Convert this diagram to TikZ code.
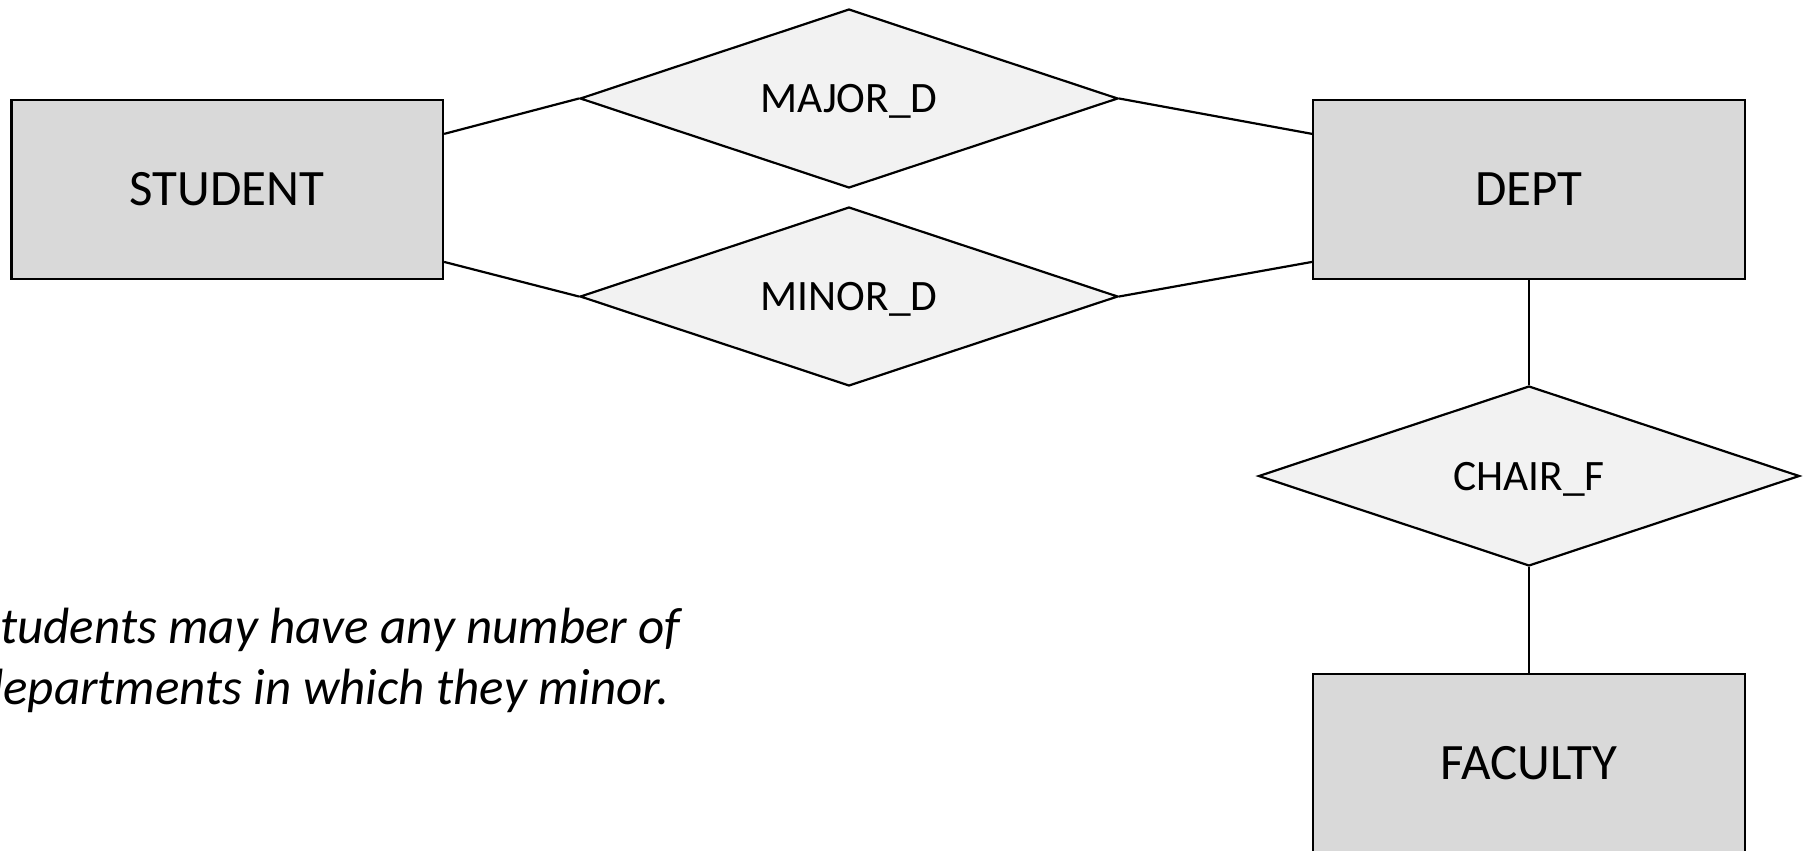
\documentclass[tikz,border=0pt]{standalone}
\usepackage{fontspec}
\setmainfont{Carlito}
\usetikzlibrary{shapes.geometric}
\tikzset{
  entity/.style={draw=black, line width=1.1pt, fill=entfill, rectangle, minimum width=215.75pt, minimum height=89.5pt, inner sep=0pt, text height=16.4pt, text depth=0pt, font=\fontsize{25.5}{30}\selectfont},
  relation/.style={draw=black, line width=1.1pt, fill=relfill, diamond, aspect=3, minimum width=269pt, minimum height=89.5pt, inner sep=0pt, text height=14pt, text depth=0pt, font=\fontsize{21.7}{26}\selectfont},
  link/.style={draw=black, line width=1.1pt},
  note/.style={font=\fontsize{25.5}{30.5}\selectfont\itshape, align=left, inner sep=0pt, anchor=base west}
}
\definecolor{entfill}{HTML}{D9D9D9}
\definecolor{relfill}{HTML}{F2F2F2}
\begin{document}
\begin{tikzpicture}[x=0.5pt, y=-0.5pt]
\useasboundingbox (0,0) rectangle (1804,851);
\node[entity] (student) at (227.25,189.5) {STUDENT};
\node[entity] (dept) at (1529,189.5) {DEPT};
\node[entity] (faculty) at (1529,763.5) {FACULTY};
\node[relation] (major) at (849,98.5) {MAJOR\_D};
\node[relation] (minor) at (849,296.5) {MINOR\_D};
\node[relation, minimum width=270.5pt, minimum height=90pt] (chair) at (1529,476) {CHAIR\_F};
\path (student.north east) ++(0,35) coordinate (s1);
\path (student.north east) ++(0,163) coordinate (s2);
\path (dept.north west) ++(0,35) coordinate (d1);
\path (dept.north west) ++(0,163) coordinate (d2);
\draw[link] (s1) -- (major.west);
\draw[link] (major.east) -- (d1);
\draw[link] (s2) -- (minor.west);
\draw[link] (minor.east) -- (d2);
\draw[link] (dept.south) -- (chair.north);
\draw[link] (chair.south) -- (faculty.north);
\node[note] (txt) at (-23,704) {Students may have any number of\\departments in which they minor.};
\end{tikzpicture}
\end{document}
